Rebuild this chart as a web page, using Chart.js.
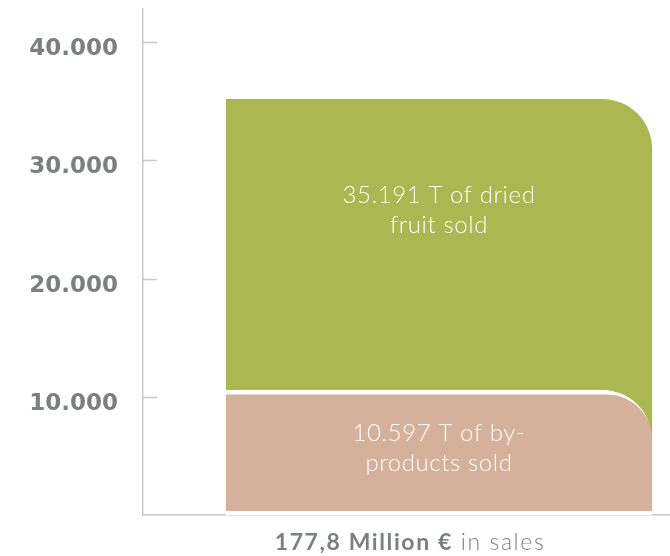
<!DOCTYPE html>
<html>
<head>
<meta charset="utf-8">
<script src="https://cdn.jsdelivr.net/npm/chart.js@4.4.1/dist/chart.umd.min.js"></script>
<style>
  html, body { margin: 0; padding: 0; background: #fff; overflow: hidden; }
  #wrap { width: 670px; height: 556px; overflow: hidden; }
</style>
</head>
<body>
<div id="wrap"><canvas id="salesChart" width="740" height="556"></canvas></div>
<script>
/* ── data ─────────────────────────────────────────────── */
const categories      = ['177,8 Million € in sales'];
const driedFruit      = [35191];
const byProducts      = [10597];
const yTickValues     = [10000, 20000, 30000, 40000];
const driedFruitText  = ['35.191 T of dried', 'fruit sold'];
const byProductsText  = ['10.597 T of by-', 'products sold'];
const captionBold     = '177,8 Million €';
const captionRegular  = ' in sales';

const COLORS = {
  green: '#abb751',
  tan:   '#d5b09a',
  label: '#7b7f80',
  axis:  '#c9c9c9',
};

const fmtThousands = v => String(v).replace(/\B(?=(\d{3})+(?!\d))/g, '.');

// ── short tick marks pointing into the plot ─────────────
const innerTicks = {
  id: 'innerTicks',
  afterDatasetsDraw(chart) {
    const { ctx } = chart;
    const ys = chart.scales.y;
    ctx.save();
    ctx.strokeStyle = COLORS.axis;
    ctx.lineWidth = 1.5;
    ys.ticks.forEach(t => {
      const py = Math.round(ys.getPixelForValue(t.value)) + 0.5;
      ctx.beginPath();
      ctx.moveTo(ys.right, py);
      ctx.lineTo(ys.right + 14, py);
      ctx.stroke();
    });
    ctx.restore();
  },
};

// ── text written inside the bars ────────────────────────
const barText = {
  id: 'barText',
  afterDatasetsDraw(chart) {
    const { ctx } = chart;
    const green = chart.getDatasetMeta(0).data[0];
    const tan = chart.getDatasetMeta(1).data[0];
    ctx.save();
    ctx.fillStyle = '#ffffff';
    ctx.font = '300 24px Lato, "Open Sans", sans-serif';
    ctx.letterSpacing = '0.6px';
    ctx.textAlign = 'center';
    ctx.textBaseline = 'middle';
    const lh = 30;
    const gy = green.y + (tan.y - green.y) * 0.375 + 2;
    driedFruitText.forEach((s, i) => ctx.fillText(s, green.x, gy + (i - 0.5) * lh));
    const ty = (tan.y + tan.base) / 2 - 4;
    byProductsText.forEach((s, i) => ctx.fillText(s, tan.x, ty + (i - 0.5) * lh));
    ctx.restore();
  },
};

// ── caption under the bar, bold + regular ───────────────
const caption = {
  id: 'caption',
  afterDraw(chart) {
    const { ctx } = chart;
    const xs = chart.scales.x;
    const boldFont = 'bold 23px Lato, "Open Sans", sans-serif';
    const regFont = '300 23px Lato, "Open Sans", sans-serif';
    ctx.save();
    ctx.letterSpacing = '1.6px';
    ctx.font = boldFont;
    const wb = ctx.measureText(captionBold).width;
    ctx.font = regFont;
    const wr = ctx.measureText(captionRegular).width;
    const cx = xs.getPixelForValue(0) - 29;
    let x = cx - (wb + wr) / 2;
    const y = 543;
    ctx.textBaseline = 'middle';
    ctx.textAlign = 'left';
    ctx.fillStyle = COLORS.label;
    ctx.font = boldFont;
    ctx.fillText(captionBold, x, y);
    ctx.font = regFont;
    ctx.fillText(captionRegular, x + wb, y);
    ctx.restore();
  },
};

new Chart(document.getElementById('salesChart'), {
  type: 'bar',
  data: {
    labels: categories,
    datasets: [
      {
        label: 'Dried fruit sold',
        data: driedFruit,
        backgroundColor: COLORS.green,
        borderRadius: { topLeft: 0, topRight: 50, bottomLeft: 0, bottomRight: 0 },
        borderSkipped: 'bottom',
        order: 1,
      },
      {
        label: 'By-products sold',
        data: byProducts,
        backgroundColor: COLORS.tan,
        borderColor: '#ffffff',
        borderWidth: { top: 5, right: 0, bottom: 4, left: 0 },
        borderSkipped: false,
        borderRadius: { topLeft: 0, topRight: 50, bottomLeft: 0, bottomRight: 0 },
        order: 0,
      },
    ],
  },
  options: {
    responsive: false,
    animation: false,
    grouped: false,
    categoryPercentage: 1,
    barPercentage: 0.72,
    layout: { padding: { top: 9, right: 5, left: 0, bottom: 0 } },
    plugins: { legend: { display: false }, tooltip: { enabled: false } },
    scales: {
      x: {
        z: 1,
        grid: { display: false },
        border: { color: COLORS.axis, width: 1.5 },
        ticks: { display: false },
        afterFit: s => { s.height = 41; s.paddingLeft = 0; s.paddingRight = 0; },
      },
      y: {
        min: 0,
        max: 42800,
        grid: { display: false },
        border: { color: COLORS.axis, width: 1.5 },
        afterBuildTicks: s => { s.ticks = yTickValues.map(v => ({ value: v })); },
        afterFit: s => { s.width = 143; s.paddingTop = 0; s.paddingBottom = 0; },
        ticks: {
          padding: 17,
          labelOffset: 7,
          color: COLORS.label,
          font: { family: '"DejaVu Sans"', weight: 'bold', size: 23 },
          callback: v => fmtThousands(v),
        },
      },
    },
  },
  plugins: [innerTicks, barText, caption],
});
</script>
</body>
</html>
